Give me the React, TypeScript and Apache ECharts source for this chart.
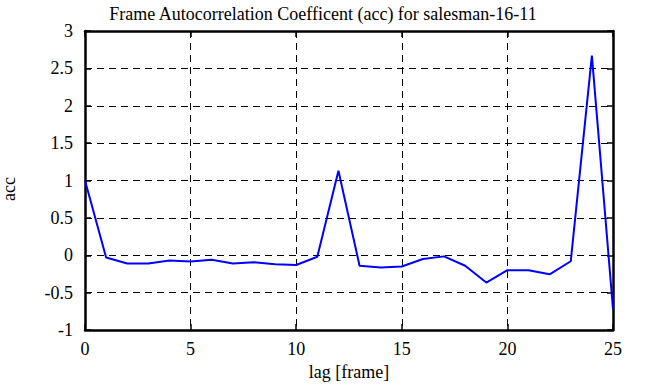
import React, { useEffect, useRef } from "react";
import * as echarts from "echarts";

const lags = [0, 1, 2, 3, 4, 5, 6, 7, 8, 9, 10, 11, 12, 13, 14, 15, 16, 17, 18, 19, 20, 21, 22, 23, 24, 25];
const acc = [1.0, -0.03, -0.11, -0.11, -0.07, -0.085, -0.06, -0.11, -0.095, -0.12, -0.13, -0.02, 1.13, -0.14, -0.165, -0.15, -0.05, -0.015, -0.14, -0.365, -0.2, -0.2, -0.255, -0.08, 2.67, -0.72];
const titleText = "Frame Autocorrelation Coefficent (acc) for salesman-16-11";
const xName = "lag [frame]";
const yName = "acc";

const FONT = "Liberation Serif";

export default function App() {
  const ref = useRef<HTMLDivElement>(null);
  useEffect(() => {
    if (!ref.current) return;
    const chart = echarts.init(ref.current, null, { renderer: "svg" });
    const data = lags.map((l, i) => [l, acc[i]]);
    const mkLine = () => ({ show: true, onZero: false, lineStyle: { color: "#000000", width: 2.5, type: "solid", opacity: 1 } });
    const mkTick = () => ({ show: true, inside: true, length: 6, lineStyle: { color: "#000000", width: 1.5 } });
    const mkLabel = (margin: number) => ({
      show: true,
      fontFamily: FONT,
      fontSize: 18,
      fontWeight: "normal",
      color: "#000",
      margin,
    });
    const split = { show: true, showMinLine: false, showMaxLine: false, lineStyle: { color: "#000", width: 1, type: [7, 5] } };
    chart.setOption({
      animation: false,
      backgroundColor: "#fff",
      textStyle: { fontFamily: FONT },
      title: {
        text: titleText,
        left: "center",
        top: 0,
        textStyle: { fontFamily: FONT, fontSize: 18, fontWeight: "normal", color: "#000" },
      },
      grid: {
        left: 85,
        right: 33,
        top: 31,
        bottom: 57,
        outerBoundsMode: "none",
      },
      xAxis: [
        {
          type: "value",
          min: 0,
          max: 25,
          interval: 5,
          position: "bottom",
          name: xName,
          nameLocation: "middle",
          nameGap: 33,
          nameTextStyle: { fontFamily: FONT, fontSize: 18, color: "#000" },
          axisLine: mkLine(),
          axisTick: mkTick(),
          axisLabel: mkLabel(10),
          splitLine: split,
        },
        {
          type: "value",
          min: 0,
          max: 25,
          interval: 5,
          position: "top",
          axisLine: mkLine(),
          axisTick: mkTick(),
          axisLabel: { show: false },
          splitLine: { show: false },
        },
      ],
      yAxis: [
        {
          type: "value",
          min: -1,
          max: 3,
          interval: 0.5,
          position: "left",
          axisLine: mkLine(),
          axisTick: mkTick(),
          axisLabel: mkLabel(12),
          splitLine: split,
        },
        {
          type: "value",
          min: -1,
          max: 3,
          interval: 0.5,
          position: "right",
          axisLine: mkLine(),
          axisTick: mkTick(),
          axisLabel: { show: false },
          splitLine: { show: false },
        },
      ],
      graphic: [
        {
          type: "text",
          x: 9,
          y: 189,
          rotation: Math.PI / 2,
          style: {
            text: yName,
            fontFamily: FONT,
            fontSize: 18,
            fill: "#000",
            align: "center",
            verticalAlign: "middle",
          },
        },
      ],
      series: [
        {
          type: "line",
          data,
          symbol: "none",
          lineStyle: { color: "#0000ff", width: 2 },
          xAxisIndex: 0,
          yAxisIndex: 0,
          z: 5,
        },
      ],
    });
    return () => chart.dispose();
  }, []);
  return (
    <div
      ref={ref}
      style={{ position: "fixed", left: 0, top: 0, width: 646, height: 387 }}
    />
  );
}
